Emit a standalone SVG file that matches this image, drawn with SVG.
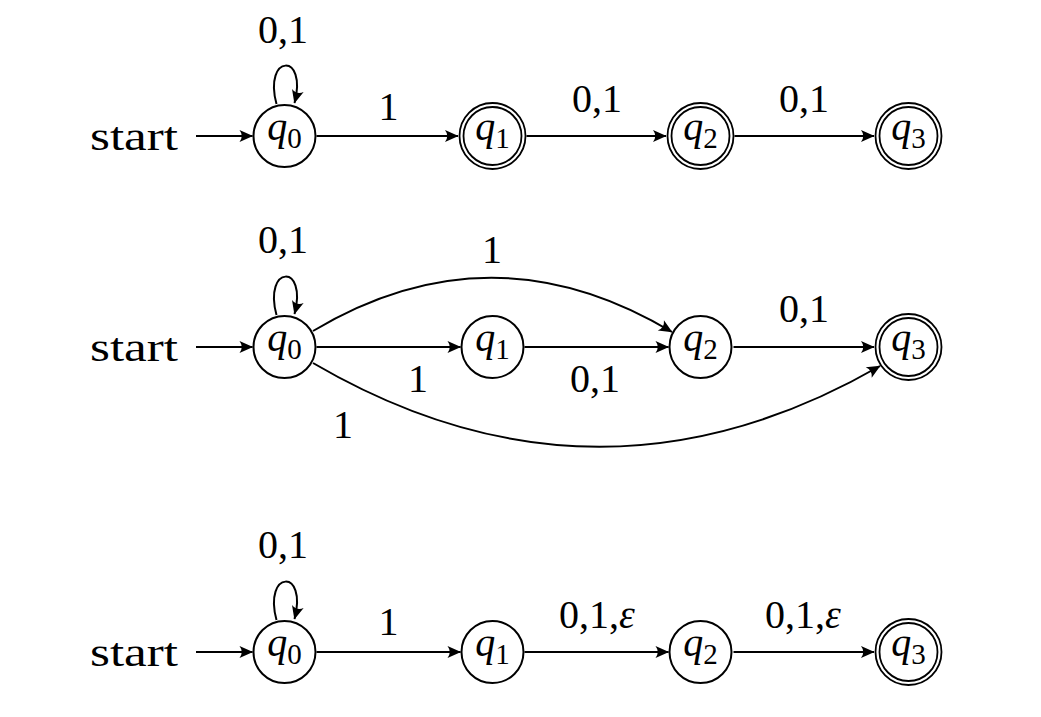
<svg xmlns="http://www.w3.org/2000/svg" width="1041" height="717" viewBox="0 0 1041 717">
<style>
.st{fill:#fff;stroke:#000;stroke-width:2}
.dbl{fill:none;stroke:#000;stroke-width:1.8}
.e{fill:none;stroke:#000;stroke-width:2;marker-end:url(#ah)}
text{font-family:"Liberation Serif","DejaVu Serif",serif;font-size:40px;fill:#000;text-anchor:middle}
.q{font-style:italic}
.sub{font-style:normal;font-size:29px}
.lab{text-anchor:start}
</style>
<defs>
<marker id="ah" viewBox="-15 -8 16 16" refX="0" refY="0" markerWidth="16" markerHeight="16" markerUnits="userSpaceOnUse" orient="auto">
<path d="M0.5,0 L-13,-6 Q-8.5,0 -13,6 Z" fill="#000"/>
</marker>
</defs>

<!-- Row 1 -->
<g id="r1-start"><text x="90" y="150" class="lab" textLength="88" lengthAdjust="spacingAndGlyphs">start</text></g>
<g id="r1-q0"><circle class="st" cx="284.5" cy="136" r="31"/><text class="q" x="284.5" y="140">q<tspan class="sub" dy="8">0</tspan></text></g>
<g id="r1-q1"><circle class="dbl" cx="492.5" cy="136" r="33"/><circle class="dbl" cx="492.5" cy="136" r="29"/><text class="q" x="492.5" y="140">q<tspan class="sub" dy="8">1</tspan></text></g>
<g id="r1-q2"><circle class="dbl" cx="700.5" cy="136" r="33"/><circle class="dbl" cx="700.5" cy="136" r="29"/><text class="q" x="700.5" y="140">q<tspan class="sub" dy="8">2</tspan></text></g>
<g id="r1-q3"><circle class="dbl" cx="908.5" cy="136" r="33"/><circle class="dbl" cx="908.5" cy="136" r="29"/><text class="q" x="908.5" y="140">q<tspan class="sub" dy="8">3</tspan></text></g>

<!-- Row 2 -->
<g id="r2-start"><text x="90" y="361" class="lab" textLength="88" lengthAdjust="spacingAndGlyphs">start</text></g>
<g id="r2-q0"><circle class="st" cx="284.5" cy="347" r="31"/><text class="q" x="284.5" y="351">q<tspan class="sub" dy="8">0</tspan></text></g>
<g id="r2-q1"><circle class="st" cx="492.5" cy="347" r="31"/><text class="q" x="492.5" y="351">q<tspan class="sub" dy="8">1</tspan></text></g>
<g id="r2-q2"><circle class="st" cx="700.5" cy="347" r="31"/><text class="q" x="700.5" y="351">q<tspan class="sub" dy="8">2</tspan></text></g>
<g id="r2-q3"><circle class="dbl" cx="908.5" cy="347" r="33"/><circle class="dbl" cx="908.5" cy="347" r="29"/><text class="q" x="908.5" y="351">q<tspan class="sub" dy="8">3</tspan></text></g>

<!-- Row 3 -->
<g id="r3-start"><text x="90" y="666" class="lab" textLength="88" lengthAdjust="spacingAndGlyphs">start</text></g>
<g id="r3-q0"><circle class="st" cx="284.5" cy="652" r="31"/><text class="q" x="284.5" y="656">q<tspan class="sub" dy="8">0</tspan></text></g>
<g id="r3-q1"><circle class="st" cx="492.5" cy="652" r="31"/><text class="q" x="492.5" y="656">q<tspan class="sub" dy="8">1</tspan></text></g>
<g id="r3-q2"><circle class="st" cx="700.5" cy="652" r="31"/><text class="q" x="700.5" y="656">q<tspan class="sub" dy="8">2</tspan></text></g>
<g id="r3-q3"><circle class="dbl" cx="908.5" cy="652" r="33"/><circle class="dbl" cx="908.5" cy="652" r="29"/><text class="q" x="908.5" y="656">q<tspan class="sub" dy="8">3</tspan></text></g>

<g id="connectors">
<!-- row 1 -->
<path class="e" d="M196,136 L252.5,136"/>
<path class="e" d="M276.5,104 C263,54 308,52 294.5,103"/>
<path class="e" d="M316.5,136 L458,136"/>
<path class="e" d="M526.5,136 L666,136"/>
<path class="e" d="M734.5,136 L874,136"/>
<!-- row 2 -->
<path class="e" d="M196,347 L252.5,347"/>
<path class="e" d="M276.5,315 C263,265 308,263 294.5,314"/>
<path class="e" d="M316.5,347 L460.5,347"/>
<path class="e" d="M524.5,347 L668.5,347"/>
<path class="e" d="M733.5,347 L874,347"/>
<path class="e" d="M313,331 Q492,224 672,332"/>
<path class="e" d="M313,363 Q597,529 880,366"/>
<!-- row 3 -->
<path class="e" d="M196,652 L252.5,652"/>
<path class="e" d="M276.5,620 C263,570 308,568 294.5,619"/>
<path class="e" d="M316.5,652 L460.5,652"/>
<path class="e" d="M524.5,652 L668.5,652"/>
<path class="e" d="M733.5,652 L874,652"/>
</g>

<g id="labels">
<text x="283" y="43">0,1</text>
<text x="388.5" y="120">1</text>
<text x="597" y="112">0,1</text>
<text x="804" y="112">0,1</text>

<text x="283" y="253">0,1</text>
<text x="492" y="263">1</text>
<text x="804" y="322">0,1</text>
<text x="418" y="392">1</text>
<text x="595" y="392">0,1</text>
<text x="343" y="438">1</text>

<text x="283" y="558">0,1</text>
<text x="388.5" y="635">1</text>
<text x="597" y="628">0,1,<tspan font-style="italic">ε</tspan></text>
<text x="803" y="628">0,1,<tspan font-style="italic">ε</tspan></text>
</g>
</svg>
